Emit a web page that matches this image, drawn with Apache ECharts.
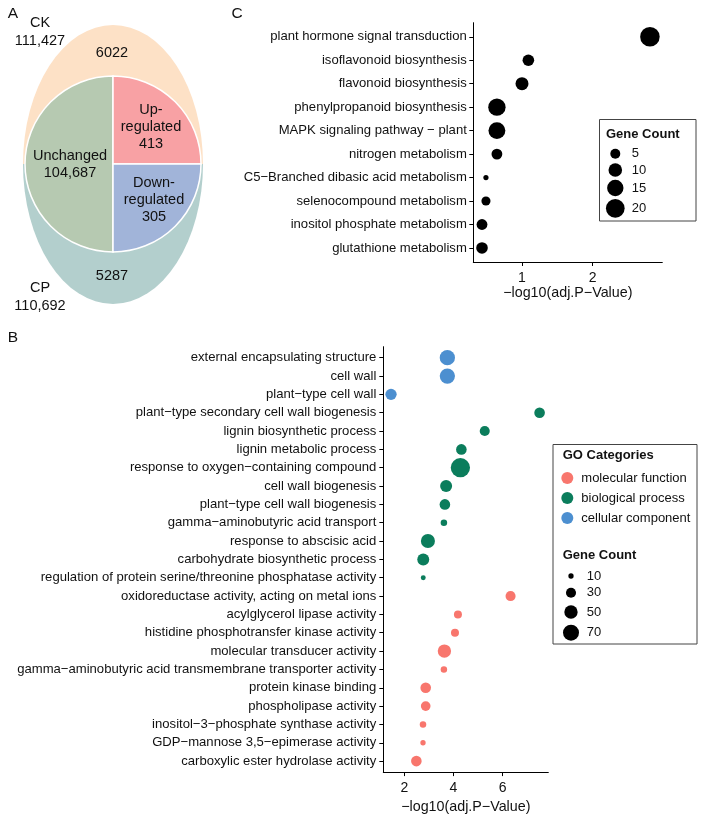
<!DOCTYPE html>
<html><head><meta charset="utf-8">
<script src="https://cdn.jsdelivr.net/npm/echarts@6/dist/echarts.min.js"></script>
<style>html,body{margin:0;padding:0;background:#fff}#c{width:703px;height:819px}</style>
</head><body><div id="c"></div>
<script>
// ---------- Panel A (Venn) ----------
const vennSets = ['CK', 'CP'];
const vennTotals = [111427, 110692];
const vennUnique = [6022, 5287];
const overlapLabels = ['Unchanged', 'Up-\nregulated', 'Down-\nregulated'];
const overlapCounts = [104687, 413, 305];

// ---------- Panel C (KEGG) ----------
const keggTerms = ['plant hormone signal transduction', 'isoflavonoid biosynthesis', 'flavonoid biosynthesis',
  'phenylpropanoid biosynthesis', 'MAPK signaling pathway − plant', 'nitrogen metabolism',
  'C5−Branched dibasic acid metabolism', 'selenocompound metabolism', 'inositol phosphate metabolism',
  'glutathione metabolism'];
const keggLogP = [2.81, 1.09, 1.00, 0.645, 0.645, 0.645, 0.49, 0.49, 0.434, 0.434];
const keggCount = [22, 7, 9, 17, 16, 6, 1, 4, 6, 7];
const keggSizeLegend = [5, 10, 15, 20];
const keggTicks = [1, 2];

// ---------- Panel B (GO) ----------
const goTerms = ['external encapsulating structure', 'cell wall', 'plant−type cell wall',
  'plant−type secondary cell wall biogenesis', 'lignin biosynthetic process', 'lignin metabolic process',
  'response to oxygen−containing compound', 'cell wall biogenesis', 'plant−type cell wall biogenesis',
  'gamma−aminobutyric acid transport', 'response to abscisic acid', 'carbohydrate biosynthetic process',
  'regulation of protein serine/threonine phosphatase activity', 'oxidoreductase activity, acting on metal ions',
  'acylglycerol lipase activity', 'histidine phosphotransfer kinase activity', 'molecular transducer activity',
  'gamma−aminobutyric acid transmembrane transporter activity', 'protein kinase binding',
  'phospholipase activity', 'inositol−3−phosphate synthase activity', 'GDP−mannose 3,5−epimerase activity',
  'carboxylic ester hydrolase activity'];
const goLogP = [3.75, 3.75, 1.46, 7.50, 5.27, 4.32, 4.28, 3.70, 3.65, 3.61, 2.96, 2.77, 2.77,
  6.32, 4.18, 4.06, 3.63, 3.61, 2.87, 2.87, 2.76, 2.76, 2.49];
const goCount = [64, 64, 37, 33, 30, 33, 99, 41, 33, 14, 55, 41, 9,
  30, 20, 20, 50, 14, 33, 28, 14, 10, 33];
const goCategory = ['cellular component', 'cellular component', 'cellular component',
  'biological process', 'biological process', 'biological process', 'biological process',
  'biological process', 'biological process', 'biological process', 'biological process',
  'biological process', 'biological process',
  'molecular function', 'molecular function', 'molecular function', 'molecular function',
  'molecular function', 'molecular function', 'molecular function', 'molecular function',
  'molecular function', 'molecular function'];
const goCategoryNames = ['molecular function', 'biological process', 'cellular component'];
const goSizeLegend = [10, 30, 50, 70];
const goTicks = [2, 4, 6];

// ---------- styling ----------
const FONT = '"Liberation Sans", Arial, Helvetica, sans-serif';
const TXT = '#111';
const goColors = ['#F8766D', '#0B7D5C', '#4C8FD0'];
const sizeC = n => 1.3 + 3.89 * Math.sqrt(n);
const sizeB = n => -1.2 + 2.056 * Math.sqrt(n);
const fmt = n => n >= 100000 ? n.toLocaleString('en-US') : String(n);

function catAxis(names, gridIndex, margin) {
  const idx = names.map((_, i) => i);
  return {
    type: 'value', gridIndex, inverse: true, min: -0.6, max: names.length - 0.4,
    axisLine: {show: true, onZero: false, lineStyle: {color: '#000', width: 1}},
    axisTick: {show: true, length: 4, customValues: idx, lineStyle: {color: '#000', width: 1}},
    axisLabel: {show: true, customValues: idx, formatter: v => names[Math.round(v)] || '',
      fontSize: 13.1, color: TXT, fontFamily: FONT, margin},
    splitLine: {show: false}
  };
}
function valAxis(min, max, ticks, gridIndex, gap) {
  return {
    type: 'value', gridIndex, min, max,
    name: '−log10(adj.P−Value)', nameLocation: 'middle', nameGap: gap,
    nameTextStyle: {fontSize: 14.3, color: TXT, fontFamily: FONT},
    axisLine: {show: true, onZero: false, lineStyle: {color: '#000', width: 1}},
    axisTick: {show: true, length: 4, customValues: ticks, lineStyle: {color: '#000', width: 1}},
    axisLabel: {show: true, customValues: ticks, fontSize: 14, color: TXT, fontFamily: FONT, margin: 9},
    splitLine: {show: false}
  };
}

// ---------- Venn graphics ----------
const cx = 113, cy = 164, R = 88;
function t(text, x, y, size, lh) {
  return {type: 'text', x, y, silent: true,
    style: {text, fontSize: size || 14.5, lineHeight: lh || 17, fontFamily: FONT, fill: TXT, align: 'center', verticalAlign: 'middle'}};
}
const graphics = [
  {type: 'sector', silent: true, x: cx, y: cy, scaleY: 139 / 90,
    shape: {cx: 0, cy: 0, r: 90, startAngle: Math.PI, endAngle: 2 * Math.PI}, style: {fill: '#FDE1C6'}},
  {type: 'sector', silent: true, x: cx, y: cy, scaleY: 140 / 90,
    shape: {cx: 0, cy: 0, r: 90, startAngle: 0, endAngle: Math.PI}, style: {fill: '#B3CFCD'}},
  {type: 'sector', silent: true, shape: {cx, cy, r: R, startAngle: Math.PI / 2, endAngle: 1.5 * Math.PI},
    style: {fill: '#B6C9B1', stroke: '#fff', lineWidth: 1.5}},
  {type: 'sector', silent: true, shape: {cx, cy, r: R, startAngle: 1.5 * Math.PI, endAngle: 2 * Math.PI},
    style: {fill: '#F8A1A4', stroke: '#fff', lineWidth: 1.5}},
  {type: 'sector', silent: true, shape: {cx, cy, r: R, startAngle: 0, endAngle: Math.PI / 2},
    style: {fill: '#A1B4D9', stroke: '#fff', lineWidth: 1.5}},
  t('A', 13, 14, 15.5),
  t('B', 13, 338, 15.5),
  t('C', 237, 14, 15.5),
  t(vennSets[0] + '\n' + fmt(vennTotals[0]), 40, 32, 14.5, 18),
  t(vennSets[1] + '\n' + fmt(vennTotals[1]), 40, 297, 14.5, 18),
  t(fmt(vennUnique[0]), 112, 53),
  t(fmt(vennUnique[1]), 112, 276),
  t(overlapLabels[0] + '\n' + fmt(overlapCounts[0]), 70, 164.5),
  t(overlapLabels[1] + '\n' + fmt(overlapCounts[1]), 151, 127),
  t(overlapLabels[2] + '\n' + fmt(overlapCounts[2]), 154, 200),
];

// ---------- Legend boxes ----------
function lt(text, x, y, bold) {
  return {type: 'text', x, y, silent: true,
    style: {text, fontSize: 13, fontFamily: FONT, fontWeight: bold ? 'bold' : 'normal', fill: TXT, align: 'left', verticalAlign: 'middle'}};
}
graphics.push({type: 'rect', silent: true, shape: {x: 599.5, y: 119.5, width: 96.5, height: 101.5},
  style: {fill: '#fff', stroke: '#444', lineWidth: 1}});
graphics.push(lt('Gene Count', 606, 134, true));
const cLegY = [153.7, 170, 188, 208.3];
keggSizeLegend.forEach((v, i) => {
  graphics.push({type: 'circle', silent: true, shape: {cx: 615.3, cy: cLegY[i], r: sizeC(v) / 2}, style: {fill: '#000'}});
  graphics.push(lt(String(v), 631.7, cLegY[i]));
});
graphics.push({type: 'rect', silent: true, shape: {x: 553, y: 444.5, width: 144, height: 199.5},
  style: {fill: '#fff', stroke: '#444', lineWidth: 1}});
graphics.push(lt('GO Categories', 562.7, 455.7, true));
graphics.push(lt('Gene Count', 562.7, 555.3, true));
const bLegY = [576, 592.7, 612, 632.7];
goSizeLegend.forEach((v, i) => {
  graphics.push({type: 'circle', silent: true, shape: {cx: 571, cy: bLegY[i], r: sizeB(v) / 2}, style: {fill: '#000'}});
  graphics.push(lt(String(v), 586.7, bLegY[i]));
});

const chart = echarts.init(document.getElementById('c'), null, {renderer: 'canvas'});
const series = [{
  type: 'scatter', name: 'KEGG', xAxisIndex: 0, yAxisIndex: 0,
  data: keggTerms.map((term, i) => [keggLogP[i], i, keggCount[i]]),
  symbolSize: v => sizeC(v[2]), itemStyle: {color: '#000', opacity: 1}, emphasis: {disabled: true}, z: 5
}];
goCategoryNames.forEach((cat, ci) => {
  series.push({
    type: 'scatter', name: cat, xAxisIndex: 1, yAxisIndex: 1,
    data: goTerms.map((term, i) => goCategory[i] === cat ? [goLogP[i], i, goCount[i]] : null).filter(Boolean),
    symbolSize: v => sizeB(v[2]), itemStyle: {color: goColors[ci], opacity: 1}, emphasis: {disabled: true}, z: 5
  });
});

chart.setOption({
  animation: false,
  backgroundColor: '#fff',
  textStyle: {fontFamily: FONT},
  grid: [
    {left: 473.3, right: 40.7, top: 22.7, bottom: 557, containLabel: false},
    {left: 383.3, right: 154.7, top: 346.7, bottom: 46.7, containLabel: false}
  ],
  xAxis: [valAxis(0.311, 2.985, keggTicks, 0, 24.5), valAxis(1.146, 7.854, goTicks, 1, 25.5)],
  yAxis: [catAxis(keggTerms, 0, 6.5), catAxis(goTerms, 1, 7)],
  legend: {
    data: goCategoryNames, orient: 'vertical', left: 561.3, top: 471.5, padding: 0,
    itemWidth: 12, itemHeight: 12, itemGap: 7, icon: 'circle', selectedMode: false, z: 20,
    textStyle: {fontSize: 13, fontFamily: FONT, color: TXT, padding: [0, 0, 0, 3]}
  },
  graphic: graphics,
  series
});
</script>
</body></html>
